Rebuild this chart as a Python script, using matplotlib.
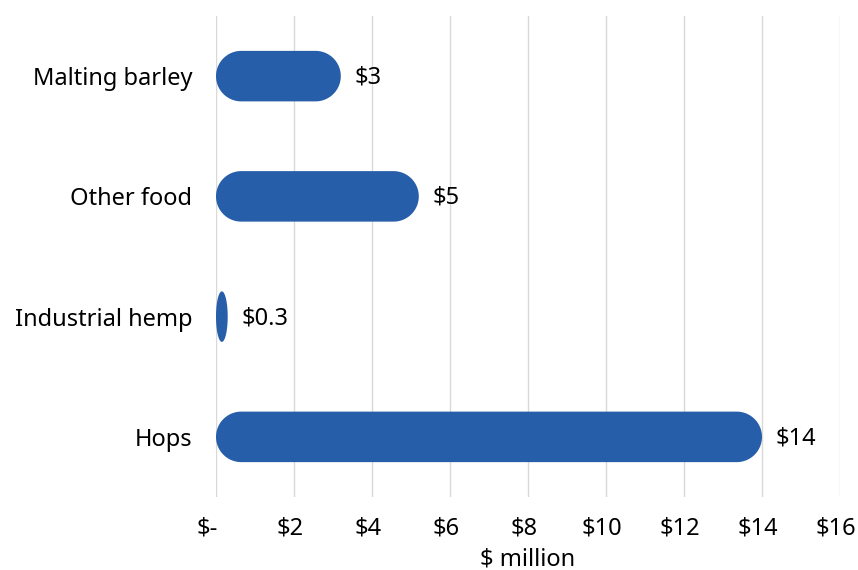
import numpy as np
import matplotlib
matplotlib.use("Agg")
from matplotlib import pyplot as plt
from matplotlib.patches import Polygon
from matplotlib.transforms import ScaledTranslation

plt.rcParams['font.family'] = ['Noto Sans', 'DejaVu Sans']

categories = ["Malting barley", "Other food", "Industrial hemp", "Hops"]
values = [3.2, 5.2, 0.3, 14.0]
x_ticks = [0, 2, 4, 6, 8, 10, 12, 14, 16]
x_tick_labels = ["$-", "$2", "$4", "$6", "$8", "$10", "$12", "$14", "$16"]

bar_color = "#265EAA"
bar_height = 0.42
fs = 17


def money(v):
    # small amounts keep one decimal, others are rounded to whole millions
    return "${:.1f}".format(v) if v < 1 else "${:.0f}".format(v)


def pill(ax, x0, width, yc, height):
    # bar with fully rounded ends; narrow bars become ellipses
    fig = ax.figure
    bbox = ax.get_position()
    x_lo, x_hi = ax.get_xlim()
    y_lo, y_hi = ax.get_ylim()
    sx = fig.get_figwidth() * fig.dpi * bbox.width / (x_hi - x_lo)
    sy = fig.get_figheight() * fig.dpi * bbox.height / abs(y_hi - y_lo)
    ry = height / 2
    rx = min(ry * sy / sx, width / 2)
    t = np.linspace(-np.pi / 2, np.pi / 2, 60)
    right = np.column_stack([x0 + width - rx + rx * np.cos(t), yc + ry * np.sin(t)])
    left = np.column_stack([x0 + rx - rx * np.cos(t), yc - ry * np.sin(t)])
    pts = np.vstack([right, left])
    ax.add_patch(Polygon(pts, closed=True, facecolor=bar_color, edgecolor="none", zorder=3))


fig = plt.figure(figsize=(8.58, 5.70), dpi=100)
ax = fig.add_axes([216 / 858, 1 - 497 / 570, 624 / 858, 481 / 570])

ax.set_xlim(0, 16)
ax.set_ylim(len(categories) - 0.5, -0.5)

for i, v in enumerate(values):
    pill(ax, 0, v, i, bar_height)
    ax.annotate(money(v), xy=(v, i), xytext=(10, -1), textcoords="offset points",
                va="center", ha="left", fontsize=fs, color="#000000")

ax.set_yticks(range(len(categories)))
ax.set_yticklabels(categories, fontsize=fs)
ax.set_xticks(x_ticks)
ax.set_xticklabels(x_tick_labels, fontsize=fs)
ax.tick_params(axis="y", length=0, pad=17)
ax.tick_params(axis="x", length=0, pad=14)
ax.set_xlabel("$ million", fontsize=fs, labelpad=5)

# accounting-style labels sit a little left of their gridline
for lab in ax.get_xticklabels():
    dx = -9 if lab.get_text() == "$-" else -4
    lab.set_transform(lab.get_transform() + ScaledTranslation(dx / 100, 0, fig.dpi_scale_trans))

ax.grid(axis="x", color="#D9D9D9", linewidth=1)
ax.set_axisbelow(True)
for s in ax.spines.values():
    s.set_visible(False)

fig.savefig("out.png", dpi=100)
